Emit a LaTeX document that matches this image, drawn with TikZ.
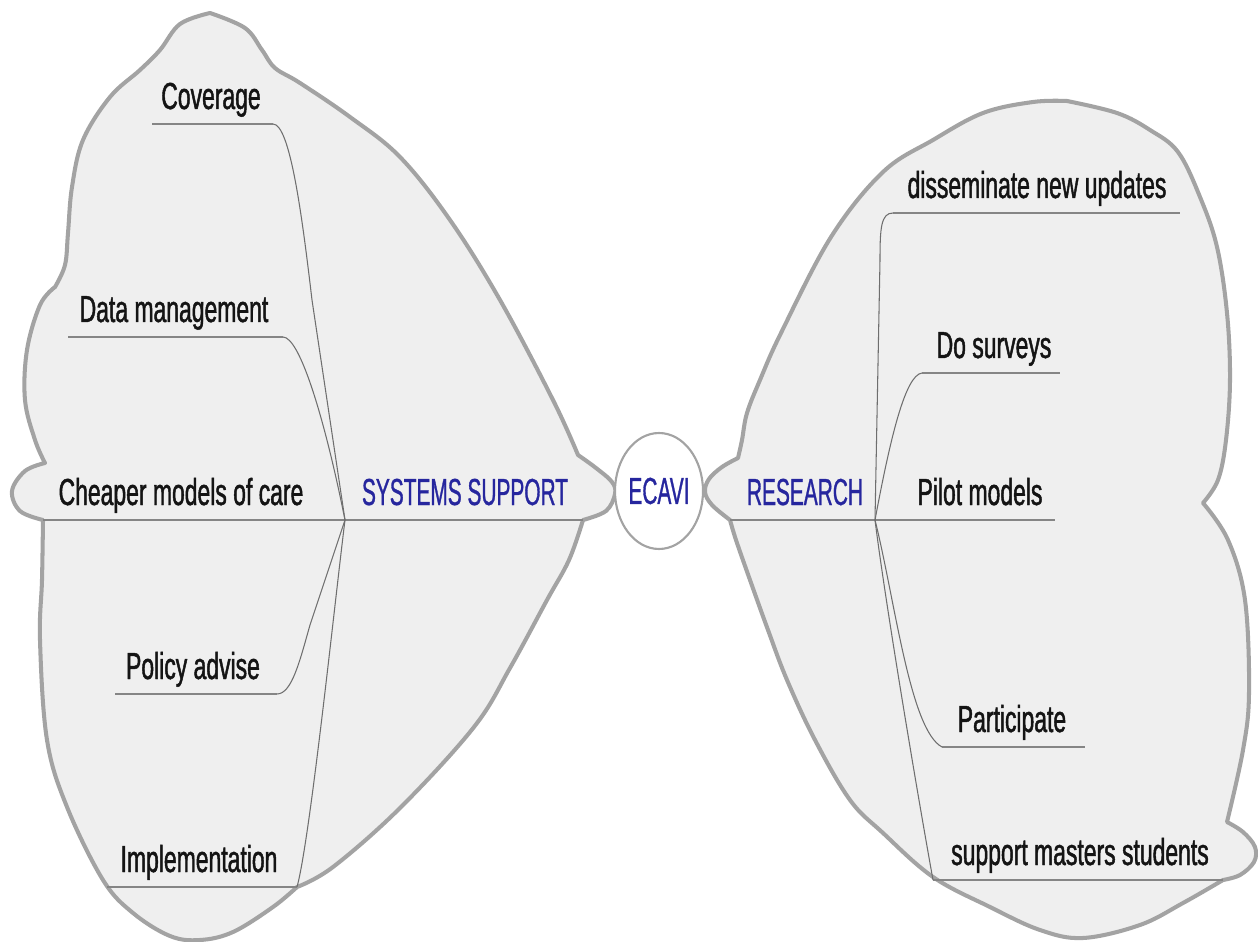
\documentclass[tikz,border=0pt]{standalone}
\usepackage{fontspec}
\usetikzlibrary{shapes.geometric}
\newfontfamily\lblfont[FakeStretch=0.61,FakeBold=1.2]{Liberation Sans}
\newfontfamily\bluefont[FakeStretch=0.555,FakeBold=0.8]{Liberation Sans}
\definecolor{blobfill}{HTML}{EFEFEF}
\definecolor{blobline}{HTML}{A3A3A3}
\definecolor{ulinecol}{HTML}{858585}
\definecolor{conncol}{HTML}{6E6E6E}
\definecolor{bluetxt}{HTML}{26269E}
\definecolor{blacktxt}{HTML}{141414}
\begin{document}
\begin{tikzpicture}[x=0.02cm,y=-0.02cm,
  blob/.style={draw=blobline, line width=2.3pt, fill=blobfill, line join=round},
  uline/.style={draw=ulinecol, line width=1.1pt},
  conn/.style={draw=conncol, line width=0.6pt},
  lab/.style={font=\lblfont\fontsize{21.4}{24}\selectfont, text=blacktxt, inner sep=0pt, anchor=base},
  blab/.style={font=\bluefont\fontsize{21.4}{24}\selectfont, text=bluetxt, inner sep=0pt, anchor=base},
  centre/.style={ellipse, draw=blobline, line width=1.2pt, fill=white, inner sep=0pt,
    minimum width=1.76cm, minimum height=2.32cm, text=bluetxt,
    font=\bluefont\fontsize{21.4}{24}\selectfont}]
\useasboundingbox (0,0) rectangle (1258,942);
\fill[white] (0,0) rectangle (1258,942);

% ---------- left blob (SYSTEMS SUPPORT)
\path[blob] plot[smooth, tension=0.6] coordinates {(210,13) (245,28) (262,50) (275,68) (300,83) (350,117) (400,157) (450,220) (500,300) (553,400) (578,455)}
  -- plot[smooth, tension=0.6] coordinates {(578,455) (596,468) (612,482) (615,494) (606,511) (583,520)}
  -- plot[smooth, tension=0.6] coordinates {(583,520) (569,560) (547,600) (510,668) (474,727) (400,808) (333,867) (297,887)}
  -- plot[smooth, tension=0.6] coordinates {(297,887) (273,907) (233,932) (200,940) (170,936) (133,913) (103,880) (67,807) (47,740) (40,640) (42,580) (43,520)}
  -- plot[smooth, tension=0.6] coordinates {(43,520) (20,511) (12,491) (25,471) (45,463)}
  -- plot[smooth, tension=0.6] coordinates {(45,463) (35,440) (25,400) (27,350) (40,305) (55,287)}
  -- plot[smooth, tension=0.6] coordinates {(55,287) (65,265) (68,233) (72,187) (83,140) (110,97) (140,70) (160,50) (180,24) (210,13)}
  -- cycle;

% ---------- right blob (RESEARCH)
\path[blob] plot[smooth, tension=0.6] coordinates {(1067,101) (1117,113) (1150,130) (1178,152) (1200,197) (1217,247) (1227,313) (1230,380) (1226,440) (1218,480) (1203,503)}
  -- plot[smooth, tension=0.6] coordinates {(1203,503) (1228,540) (1245,600) (1249,693) (1243,750) (1227,822)}
  -- plot[smooth, tension=0.6] coordinates {(1227,822) (1243,832) (1255,847) (1254,862) (1240,875) (1223,880)}
  -- plot[smooth, tension=0.6] coordinates {(1223,880) (1183,903) (1140,925) (1083,938) (1040,930) (990,907) (933,877) (883,833) (850,800) (815,740) (787,680) (768,630) (750,580) (736,540) (730,520)}
  -- plot[smooth, tension=0.6] coordinates {(730,520) (712,505) (705,492) (709,479) (722,467) (738,458)}
  -- plot[smooth, tension=0.6] coordinates {(738,458) (742,440) (747,413) (760,380) (781,333) (831,237) (883,172) (933,140) (983,113) (1033,102) (1067,101)}
  -- cycle;

% ---------- anchor points
\coordinate (hubL) at (345,520);
\coordinate (hubR) at (875,520);
\coordinate (covL) at (152,124);  \coordinate (covR) at (273,124);
\coordinate (datL) at (68,337);   \coordinate (datR) at (283,337);
\coordinate (chpL) at (43,520);   \coordinate (sysR) at (583,520);
\coordinate (polL) at (115,694);  \coordinate (polR) at (277,694);
\coordinate (impL) at (107,887);  \coordinate (impR) at (297,887);
\coordinate (resL) at (730,520);  \coordinate (pilR) at (1055,520);
\coordinate (disL) at (893,213);  \coordinate (disR) at (1180,213);
\coordinate (surL) at (922,373);  \coordinate (surR) at (1060,373);
\coordinate (parL) at (942,747);  \coordinate (parR) at (1085,747);
\coordinate (supL) at (933,880);  \coordinate (supR) at (1223,880);

% ---------- underlines
\draw[uline] (covL) -- (covR);
\draw[uline] (datL) -- (datR);
\draw[uline] (chpL) -- (hubL) -- (sysR);
\draw[uline] (polL) -- (polR);
\draw[uline] (impL) -- (impR);
\draw[uline] (resL) -- (hubR) -- (pilR);
\draw[uline] (disL) -- (disR);
\draw[uline] (surL) -- (surR);
\draw[uline] (parL) -- (parR);
\draw[uline] (supL) -- (supR);

% ---------- connectors, left
\draw[conn] (covR) .. controls (290,124) and (302,215) .. (312,300) -- (hubL);
\draw[conn] (datR) .. controls (300,337) and (325,420) .. (hubL);
\draw[conn] (polR) .. controls (292,694) and (300,660) .. (310,625) -- (hubL);
\draw[conn] (impR) .. controls (310,840) and (335,600) .. (hubL);

% ---------- connectors, right
\draw[conn] (disL) .. controls (881,213) and (880,228) .. (880,260) -- (hubR);
\draw[conn] (surL) .. controls (905,375) and (890,440) .. (hubR);
\draw[conn] (hubR) .. controls (895,600) and (910,730) .. (parL);
\draw[conn] (hubR) .. controls (885,600) and (915,780) .. (supL);

% ---------- labels
\node[lab] (cov) at (211,109) {Coverage};
\node[lab] (dat) at (174,322) {Data management};
\node[lab] (chp) at (181,505) {Cheaper models of care};
\node[lab] (pol) at (193,679) {Policy advise};
\node[lab] (imp) at (199,872) {Implementation};
\node[blab] (sys) at (465,505) {SYSTEMS SUPPORT};
\node[blab] (res) at (805,505) {RESEARCH};
\node[lab] (pil) at (980,505) {Pilot models};
\node[lab] (dis) at (1037,198) {disseminate new updates};
\node[lab] (sur) at (994,358) {Do surveys};
\node[lab] (par) at (1012,732) {Participate};
\node[lab] (sup) at (1080,865) {support masters students};

% ---------- centre
\node[centre] (eca) at (659,491) {ECAVI};
\end{tikzpicture}
\end{document}
